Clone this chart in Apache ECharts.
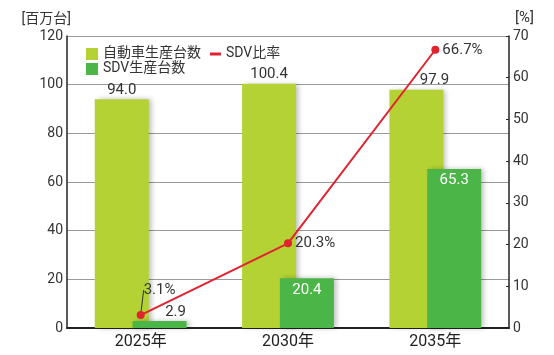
<!DOCTYPE html>
<html><head><meta charset="utf-8">
<script src="https://cdn.jsdelivr.net/npm/echarts@6/dist/echarts.min.js"></script>
<style>html,body{margin:0;padding:0;background:#fff}#c{width:554px;height:355px}</style>
</head><body><div id="c"></div>
<script>
const categories = ['2025年', '2030年', '2035年'];
const carProduction = [94.0, 100.4, 97.9];
const sdvProduction = [2.9, 20.4, 65.3];
const sdvRatio = [3.1, 20.3, 66.7];
const leftTicks = {min: 0, max: 120, interval: 20};
const rightTicks = {min: 0, max: 70, interval: 10};

const FONT = 'Roboto, "Noto Sans CJK JP", sans-serif';
const chart = echarts.init(document.getElementById('c'));
chart.setOption({
  animation: false,
  textStyle: {fontFamily: FONT},
  grid: {left: 67, right: 45, top: 36, bottom: 27},
  legend: [
    {left: 81, top: 42, itemWidth: 12, itemHeight: 12, itemGap: 15, icon: 'rect',
     textStyle: {fontSize: 14, color: '#333', fontFamily: FONT}, data: ['自動車生産台数']},
    {left: 205, top: 42, itemWidth: 11, itemHeight: 3, icon: 'rect',
     textStyle: {fontSize: 14, color: '#333', fontFamily: FONT}, data: ['SDV比率']},
    {left: 81, top: 57, itemWidth: 12, itemHeight: 12, icon: 'rect',
     textStyle: {fontSize: 14, color: '#333', fontFamily: FONT}, data: ['SDV生産台数']}
  ],
  xAxis: {
    type: 'category', data: categories,
    axisLine: {lineStyle: {color: '#222', width: 2}},
    axisTick: {show: false},
    axisLabel: {fontSize: 16, color: '#222', margin: 6}
  },
  yAxis: [
    {type: 'value', min: leftTicks.min, max: leftTicks.max, interval: leftTicks.interval,
     name: '[百万台]', nameLocation: 'end', nameGap: 10,
     nameTextStyle: {fontSize: 14, color: '#333', align: 'right', padding: [0, -4, 0, 0]},
     axisLine: {show: true, lineStyle: {color: '#222', width: 1.5}},
     axisTick: {show: false},
     axisLabel: {fontSize: 14, color: '#333', margin: 4},
     splitLine: {lineStyle: {color: '#9a9a9a', width: 1.2}}},
    {type: 'value', min: rightTicks.min, max: rightTicks.max, interval: rightTicks.interval,
     name: '[%]', nameLocation: 'end', nameGap: 10,
     nameTextStyle: {fontSize: 15, color: '#333', align: 'left', padding: [0, 0, 0, 6]},
     axisLine: {show: true, lineStyle: {color: '#222', width: 1.5}},
     axisTick: {show: true, inside: true, length: 3, lineStyle: {color: '#222'}},
     axisLabel: {fontSize: 14, color: '#333', margin: 4},
     splitLine: {show: false}}
  ],
  series: [
    {name: '自動車生産台数', type: 'bar', yAxisIndex: 0, barWidth: 54, barGap: '-30%',
     data: carProduction.map((v, i) => i === 2 ? {value: v, label: {offset: [18, 0]}} : v),
     itemStyle: {color: '#b4d233', shadowBlur: 5, shadowOffsetX: 3, shadowColor: 'rgba(0,0,0,0.25)'},
     label: {show: true, position: 'top', distance: 2, fontSize: 15, color: '#333',
             formatter: p => p.value.toFixed(1)}},
    {name: 'SDV生産台数', type: 'bar', yAxisIndex: 0, barWidth: 54,
     data: sdvProduction.map((v, i) => i === 0
       ? {value: v, label: {position: 'top', color: '#333', offset: [16, 0], distance: 1}} : v),
     itemStyle: {color: '#4bb548', shadowBlur: 5, shadowOffsetX: 3, shadowColor: 'rgba(0,0,0,0.25)'},
     label: {show: true, position: 'insideTop', distance: 4, fontSize: 15, color: '#fff',
             formatter: p => p.value.toFixed(1)}},
    {name: 'SDV比率', type: 'line', yAxisIndex: 1,
     data: sdvRatio.map((v, i) => ({value: v, labelLine: {show: i === 0}})),
     symbol: 'circle', symbolSize: 8, z: 5,
     lineStyle: {color: '#e1232f', width: 2}, itemStyle: {color: '#e1232f'},
     label: {show: true, position: 'right', distance: 3, fontSize: 15, color: '#333',
             formatter: p => p.value + '%'},
     labelLine: {lineStyle: {color: '#333', width: 1}},
     labelLayout: p => p.dataIndex === 0 ? {dx: -4, dy: -25} : {}}
  ]
});
</script></body></html>
